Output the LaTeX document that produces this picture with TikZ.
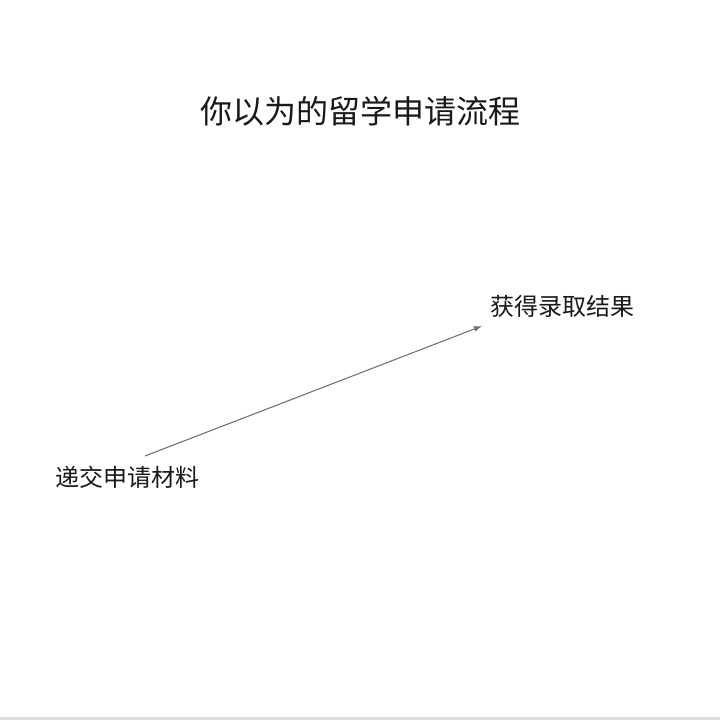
\documentclass[tikz,border=0pt]{standalone}
\usepackage{fontspec}
\setmainfont{Noto Sans CJK SC}
\usetikzlibrary{arrows.meta}
\begin{document}
\begin{tikzpicture}[x=1pt,y=-1pt,
  lbl/.style={inner sep=0pt,font=\fontsize{24}{24}\selectfont,text=black!90},
  ttl/.style={inner sep=0pt,font=\fontsize{32}{32}\selectfont,text=black!90},
  flow/.style={draw=black!55,line width=1.1pt,-{Latex[length=8pt,width=6pt]}}]
\useasboundingbox (0,0) rectangle (720,720);
\fill[white] (0,0) rectangle (720,720);
\fill[black!13] (0,717) rectangle (720,720);
\node[ttl] (title) at (360,111) {你以为的留学申请流程};
\node[lbl] (b) at (562,306) {获得录取结果};
\node[lbl] (a) at (127,477) {递交申请材料};
\coordinate (s) at (145,456);
\coordinate (e) at (482,326);
\draw[flow] (s) -- (e);
\end{tikzpicture}
\end{document}
